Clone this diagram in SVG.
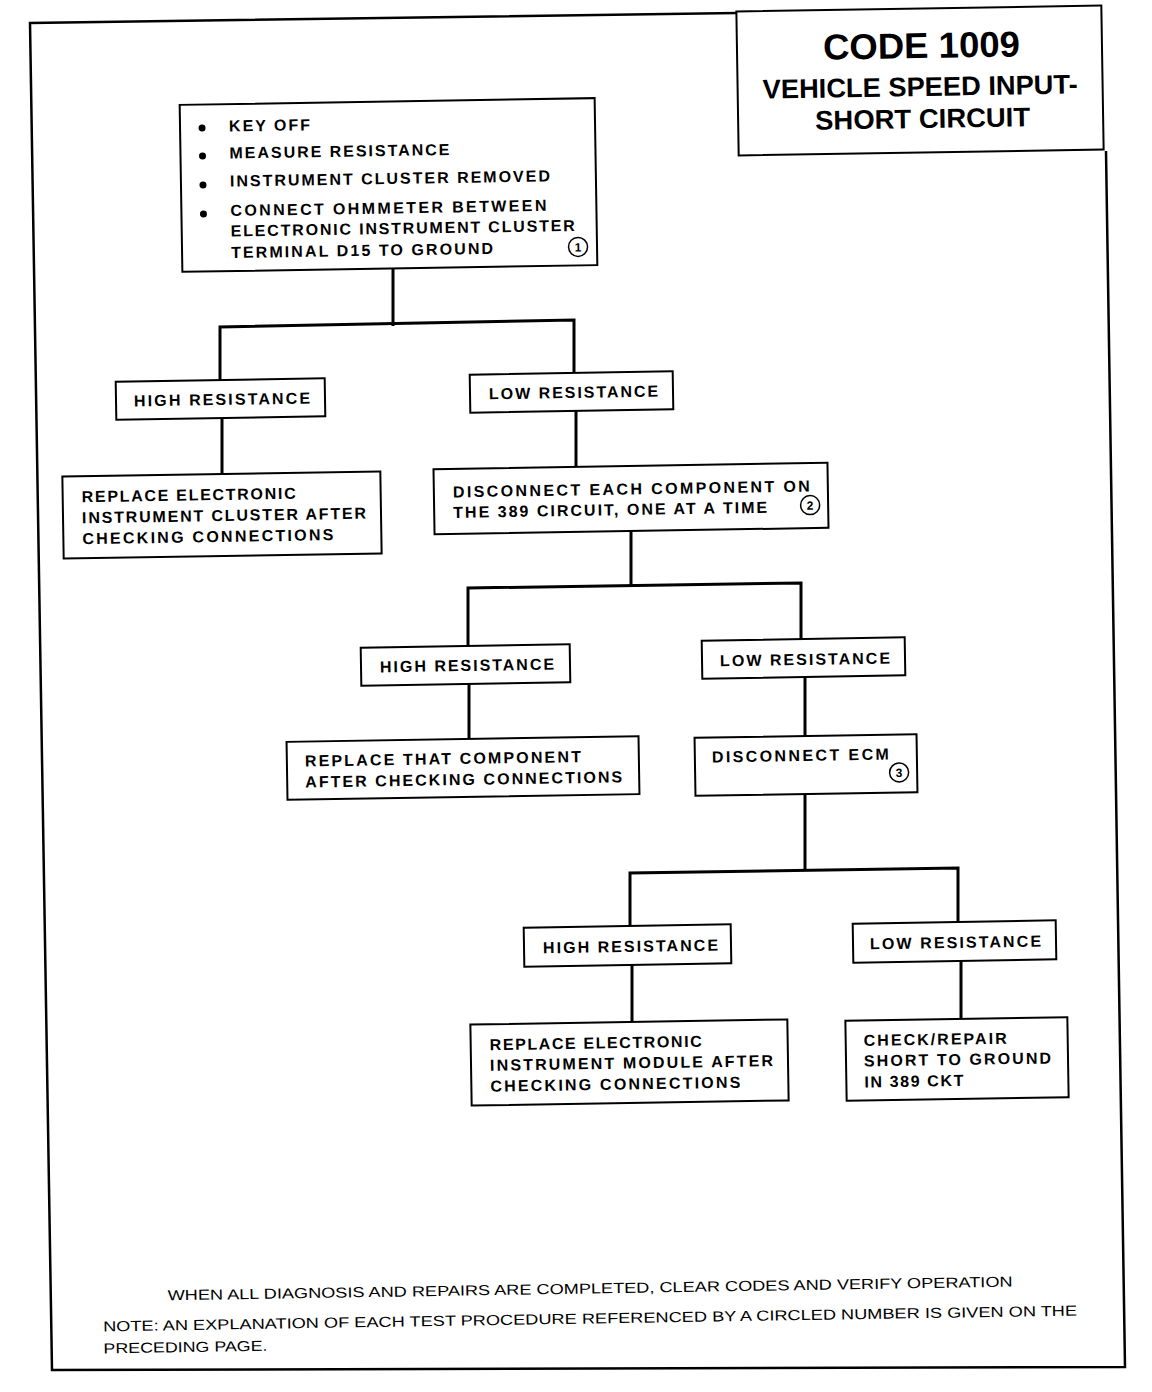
<svg xmlns="http://www.w3.org/2000/svg" width="1152" height="1392" viewBox="0 0 1152 1392">
<style>
.bx{fill:#fff;stroke:#000;stroke-width:2}
.t{font-family:"Liberation Sans",Arial,sans-serif;font-weight:bold;font-size:16px;fill:#000}
.n{font-family:"Liberation Sans",Arial,sans-serif;font-size:14.5px;fill:#000}
.ttl{font-family:"Liberation Sans",Arial,sans-serif;font-weight:bold;fill:#000;text-anchor:middle}
.cn{fill:none;stroke:#000;stroke-width:3}
.fr{fill:none;stroke:#000;stroke-width:2.5}
.cr{fill:none;stroke:#000;stroke-width:1.5}
.cnum{font-family:"Liberation Sans",Arial,sans-serif;font-size:12px;font-weight:bold;text-anchor:middle}
</style>
<rect width="1152" height="1392" fill="#fff"/>
<polyline class="fr" points="737,13 30,23 52,1370 1125,1367 1106,151"/>
<g id="title" transform="rotate(-0.93 920 80)">
<rect class="bx" x="737.5" y="8.5" width="365" height="144"/>
<text class="ttl" x="922" y="58" font-size="36" textLength="197" lengthAdjust="spacingAndGlyphs">CODE 1009</text>
<text class="ttl" x="920" y="96" font-size="27" textLength="315" lengthAdjust="spacingAndGlyphs">VEHICLE SPEED INPUT-</text>
<text class="ttl" x="922" y="128" font-size="27" textLength="215" lengthAdjust="spacingAndGlyphs">SHORT CIRCUIT</text>
</g>
<g id="connectors">
<polyline class="cn" points="393,268 393,326"/>
<polyline class="cn" points="220,380 220,327 574,320 574,373"/>
<polyline class="cn" points="222,418 222,474"/>
<polyline class="cn" points="576,411 576,466"/>
<polyline class="cn" points="631,531 631,586"/>
<polyline class="cn" points="468,646 468,588 801,583 801,639"/>
<polyline class="cn" points="469,684 469,739"/>
<polyline class="cn" points="805,677 805,736"/>
<polyline class="cn" points="805,794 805,870"/>
<polyline class="cn" points="630,926 630,873 958,868 958,922"/>
<polyline class="cn" points="632,965 632,1022"/>
<polyline class="cn" points="961,961 961,1019"/>
</g>
<g id="start" transform="rotate(-0.93 388 185)">
<rect class="bx" x="181" y="101.5" width="415" height="167"/>
<circle cx="203" cy="125" r="3.5"/>
<circle cx="203" cy="153" r="3.5"/>
<circle cx="203" cy="182" r="3.5"/>
<circle cx="203" cy="211" r="3.5"/>
<text class="t" x="230" y="129" textLength="81" lengthAdjust="spacing">KEY OFF</text>
<text class="t" x="230" y="156" textLength="220" lengthAdjust="spacing">MEASURE RESISTANCE</text>
<text class="t" x="230" y="184" textLength="320" lengthAdjust="spacing">INSTRUMENT CLUSTER REMOVED</text>
<text class="t" x="230" y="213.5" textLength="316" lengthAdjust="spacing">CONNECT OHMMETER BETWEEN</text>
<text class="t" x="230" y="234" textLength="344" lengthAdjust="spacing">ELECTRONIC INSTRUMENT CLUSTER</text>
<text class="t" x="230" y="255.5" textLength="262" lengthAdjust="spacing">TERMINAL D15 TO GROUND</text>
<circle class="cr" cx="577" cy="250" r="9.5"/>
<text class="cnum" x="577" y="254.5">1</text>
</g>
<g id="high1" transform="rotate(-0.93 220.5 399)">
<rect class="bx" x="116" y="380" width="209" height="38"/>
<text class="t" x="134" y="405" textLength="176" lengthAdjust="spacing">HIGH RESISTANCE</text>
</g>
<g id="low1" transform="rotate(-0.93 571.5 392)">
<rect class="bx" x="470" y="373" width="203" height="38"/>
<text class="t" x="489" y="398" textLength="169" lengthAdjust="spacing">LOW RESISTANCE</text>
</g>
<g id="replaceCluster" transform="rotate(-0.93 222 515)">
<rect class="bx" x="63" y="474" width="318" height="82"/>
<text class="t" x="82" y="500" textLength="214" lengthAdjust="spacing">REPLACE ELECTRONIC</text>
<text class="t" x="82" y="521" textLength="284" lengthAdjust="spacing">INSTRUMENT CLUSTER AFTER</text>
<text class="t" x="82" y="542" textLength="251" lengthAdjust="spacing">CHECKING CONNECTIONS</text>
</g>
<g id="disconnectEach" transform="rotate(-0.93 631 498.5)">
<rect class="bx" x="434" y="466" width="394" height="65"/>
<text class="t" x="453" y="494.5" textLength="357" lengthAdjust="spacing">DISCONNECT EACH COMPONENT ON</text>
<text class="t" x="453" y="515" textLength="314" lengthAdjust="spacing">THE 389 CIRCUIT, ONE AT A TIME</text>
<circle class="cr" cx="810" cy="508" r="9.5"/>
<text class="cnum" x="810" y="512.5">2</text>
</g>
<g id="high2" transform="rotate(-0.93 465.5 665)">
<rect class="bx" x="361" y="646" width="209" height="38"/>
<text class="t" x="380" y="671" textLength="174" lengthAdjust="spacing">HIGH RESISTANCE</text>
</g>
<g id="low2" transform="rotate(-0.93 803.5 658)">
<rect class="bx" x="702" y="639" width="203" height="38"/>
<text class="t" x="720" y="665" textLength="170" lengthAdjust="spacing">LOW RESISTANCE</text>
</g>
<g id="replaceComponent" transform="rotate(-0.93 463 768)">
<rect class="bx" x="287" y="739" width="352" height="58"/>
<text class="t" x="305" y="764" textLength="276" lengthAdjust="spacing">REPLACE THAT COMPONENT</text>
<text class="t" x="305" y="785" textLength="317" lengthAdjust="spacing">AFTER CHECKING CONNECTIONS</text>
</g>
<g id="disconnectEcm" transform="rotate(-0.93 806 765)">
<rect class="bx" x="695" y="736" width="222" height="58"/>
<text class="t" x="712" y="761" textLength="177" lengthAdjust="spacing">DISCONNECT ECM</text>
<circle class="cr" cx="899" cy="774" r="9.5"/>
<text class="cnum" x="899" y="778.5">3</text>
</g>
<g id="high3" transform="rotate(-0.93 627.5 945.5)">
<rect class="bx" x="524" y="926" width="207" height="39"/>
<text class="t" x="543" y="952" textLength="175" lengthAdjust="spacing">HIGH RESISTANCE</text>
</g>
<g id="low3" transform="rotate(-0.93 954.5 941.5)">
<rect class="bx" x="853" y="922" width="203" height="39"/>
<text class="t" x="870" y="948" textLength="171" lengthAdjust="spacing">LOW RESISTANCE</text>
</g>
<g id="replaceModule" transform="rotate(-0.93 629.5 1062.5)">
<rect class="bx" x="471" y="1022" width="317" height="81"/>
<text class="t" x="490" y="1048" textLength="212" lengthAdjust="spacing">REPLACE ELECTRONIC</text>
<text class="t" x="490" y="1068.5" textLength="283" lengthAdjust="spacing">INSTRUMENT MODULE AFTER</text>
<text class="t" x="490" y="1089.5" textLength="250" lengthAdjust="spacing">CHECKING CONNECTIONS</text>
</g>
<g id="checkRepair" transform="rotate(-0.93 957 1059)">
<rect class="bx" x="846" y="1019" width="222" height="80"/>
<text class="t" x="864" y="1044.5" textLength="143" lengthAdjust="spacing">CHECK/REPAIR</text>
<text class="t" x="864" y="1065" textLength="187" lengthAdjust="spacing">SHORT TO GROUND</text>
<text class="t" x="864" y="1086" textLength="99" lengthAdjust="spacing">IN 389 CKT</text>
</g>
<g id="notes" transform="rotate(-0.93 590 1315)">
<text class="n" x="168" y="1293.5" textLength="845" lengthAdjust="spacingAndGlyphs">WHEN ALL DIAGNOSIS AND REPAIRS ARE COMPLETED, CLEAR CODES AND VERIFY OPERATION</text>
<text class="n" x="103" y="1323.5" textLength="974" lengthAdjust="spacingAndGlyphs">NOTE: AN EXPLANATION OF EACH TEST PROCEDURE REFERENCED BY A CIRCLED NUMBER IS GIVEN ON THE</text>
<text class="n" x="103" y="1345.5" textLength="164" lengthAdjust="spacingAndGlyphs">PRECEDING PAGE.</text>
</g>
</svg>
